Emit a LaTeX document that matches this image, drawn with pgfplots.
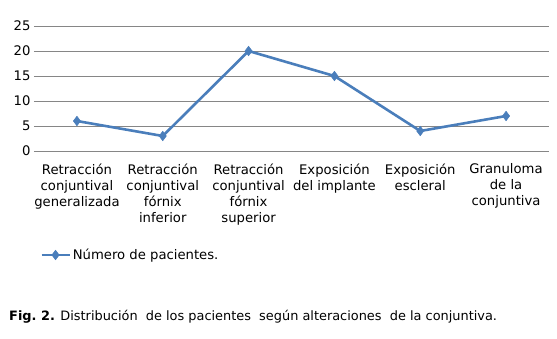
\documentclass[border=0pt]{standalone}
\usepackage{fontspec}
\setmainfont{DejaVu Sans}
\usepackage{pgfplots}
\pgfplotsset{compat=1.18}
\definecolor{linecol}{HTML}{4A7EBB}
\definecolor{gridcol}{HTML}{868686}
\begin{document}
\begin{tikzpicture}[x=1pt,y=1pt]
\path[use as bounding box] (0,0) rectangle (557,-339);
\begin{axis}[
  at={(34pt,-151pt)}, anchor=south west,
  scale only axis, width=515pt, height=125pt,
  xmin=-0.5, xmax=5.5, ymin=0, ymax=25,
  ytick={0,5,...,25},
  xtick={0,...,5},
  xticklabels={Retracción\\conjuntival\\generalizada, Retracción\\conjuntival\\fórnix\\inferior, Retracción\\conjuntival\\fórnix\\superior, Exposición\\del implante, Exposición\\escleral, Granuloma\\de la\\conjuntiva},
  xticklabel style={align=center, font=\fontsize{13.2}{16}\selectfont, yshift=-9pt},
  yticklabel style={font=\fontsize{13.2}{15}\selectfont},
  /pgf/number format/assume math mode=true,
  axis line style={draw=none},
  major tick length=0pt,
  ymajorgrids, grid style={gridcol, line width=0.8pt},
  clip=false,
  legend style={at={(rel axis cs:0.0117,-0.832)}, anchor=west, draw=none, fill=none, font=\fontsize{13.2}{15}\selectfont, inner sep=0pt},
  legend cell align=left,
  legend image code/.code={\draw[#1, mark repeat=2, mark phase=2] plot coordinates {(0pt,0pt) (14pt,0pt) (28pt,0pt)};},
]
\addplot[linecol, line width=2.6pt, mark=diamond*, mark size=4.8pt, mark options={fill=linecol, line width=0.5pt}]
  coordinates {(0,6) (1,3) (2,20) (3,15) (4,4) (5,7)};
\addlegendentry{Número de pacientes.}
\end{axis}
\node[anchor=west, inner sep=0pt, font=\fontsize{12.9}{14}\selectfont] at (9,-317) {\textbf{Fig.\ 2.} Distribución\ \ de los pacientes\ \ según alteraciones\ \ de la conjuntiva.};
\end{tikzpicture}
\end{document}
